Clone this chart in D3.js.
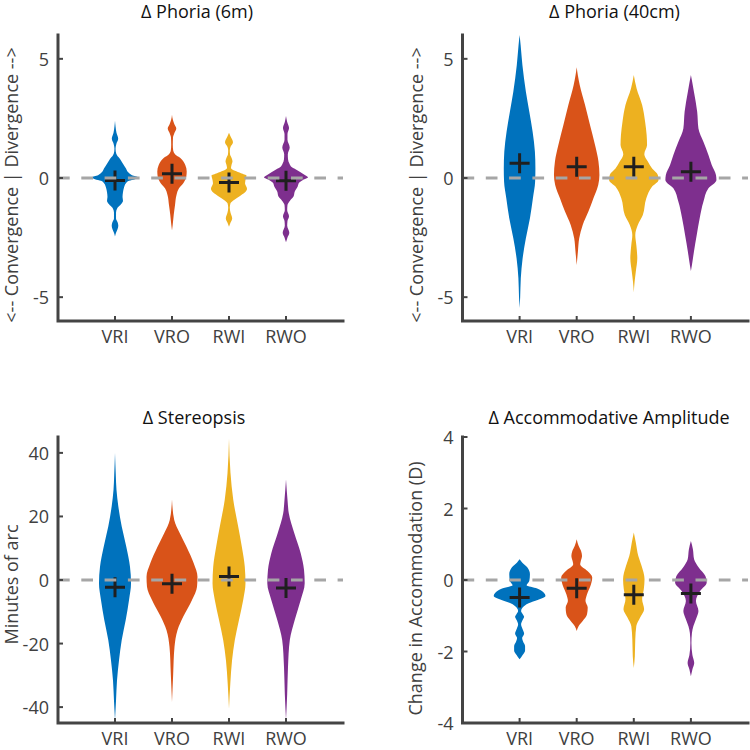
<!DOCTYPE html>
<html><head><meta charset="utf-8">
<script src="https://cdn.jsdelivr.net/npm/d3@7"></script>
<style>body{margin:0;background:#fff}svg{display:block}</style>
</head><body>
<svg id="chart" width="750" height="750"></svg>
<script>
// ---------- data ----------
const categories = ["VRI", "VRO", "RWI", "RWO"];
const seriesColors = ["#0072BD", "#D95319", "#EDB120", "#7E2F8E"];

// violin outlines: [value, half-width as fraction of category spacing]
const phoria6mProfiles = [
  [[2.4,0],[2.15,0.01],[1.9,0.026],[1.65,0.056],[1.45,0.026],[1.25,0.01],[1.1,0.014],[0.95,0.035],[0.8,0.088],[0.6,0.14],[0.4,0.193],[0.25,0.228],[0.12,0.298],[0.03,0.404],[-0.05,0.351],[-0.12,0.246],[-0.22,0.193],[-0.4,0.158],[-0.6,0.14],[-0.8,0.132],[-0.95,0.14],[-1.1,0.105],[-1.25,0.044],[-1.45,0.018],[-1.7,0.018],[-1.85,0.044],[-2.0,0.058],[-2.15,0.044],[-2.3,0.018],[-2.45,0]],
  [[2.65,0],[2.45,0.014],[2.25,0.044],[2.08,0.075],[1.9,0.044],[1.7,0.018],[1.4,0.014],[1.15,0.021],[1.0,0.053],[0.84,0.146],[0.55,0.233],[0.27,0.258],[0.06,0.251],[-0.22,0.198],[-0.43,0.123],[-0.71,0.079],[-1.13,0.053],[-1.55,0.03],[-1.97,0.012],[-2.2,0]],
  [[1.9,0],[1.75,0.026],[1.5,0.07],[1.3,0.026],[1.15,0.014],[1.0,0.018],[0.85,0.044],[0.7,0.061],[0.55,0.044],[0.42,0.035],[0.3,0.105],[0.2,0.21],[0.1,0.307],[0.0,0.298],[-0.22,0.281],[-0.45,0.316],[-0.6,0.281],[-0.75,0.193],[-0.92,0.088],[-1.06,0.026],[-1.25,0.014],[-1.45,0.026],[-1.7,0.056],[-1.88,0.026],[-2.05,0]],
  [[2.6,0],[2.35,0.021],[2.1,0.053],[1.85,0.026],[1.6,0.026],[1.28,0.065],[1.0,0.032],[0.8,0.035],[0.6,0.061],[0.45,0.105],[0.34,0.189],[0.15,0.316],[0.03,0.386],[-0.08,0.298],[-0.2,0.228],[-0.36,0.205],[-0.57,0.154],[-0.78,0.132],[-0.95,0.07],[-1.13,0.026],[-1.35,0.021],[-1.6,0.053],[-1.8,0.026],[-2.0,0.021],[-2.3,0.058],[-2.5,0.026],[-2.7,0]]
];
const phoria6mMeans = [-0.1, 0.18, -0.19, -0.12];

const phoria40cmProfiles = [
  [[6.0,0],[5.58,0.018],[4.74,0.049],[3.62,0.11],[2.78,0.17],[1.94,0.228],[1.1,0.268],[0.4,0.277],[-0.15,0.272],[-0.85,0.233],[-1.69,0.181],[-2.53,0.11],[-3.37,0.053],[-4.21,0.021],[-5.0,0.01],[-5.45,0]],
  [[4.65,0],[4.3,0.021],[3.9,0.053],[3.06,0.146],[2.22,0.233],[1.38,0.321],[0.69,0.381],[0.13,0.398],[-0.29,0.377],[-0.85,0.293],[-1.41,0.205],[-1.97,0.105],[-2.53,0.044],[-3.09,0.021],[-3.65,0]],
  [[4.32,0],[3.76,0.049],[3.06,0.146],[2.36,0.198],[1.8,0.225],[1.38,0.232],[1.0,0.184],[0.69,0.246],[0.4,0.321],[0.13,0.421],[-0.08,0.433],[-0.36,0.321],[-0.85,0.219],[-1.55,0.158],[-1.97,0.07],[-2.39,0.026],[-2.81,0.044],[-3.37,0.061],[-3.93,0.035],[-4.35,0.014],[-4.8,0]],
  [[4.32,0],[3.62,0.053],[2.78,0.11],[2.08,0.132],[1.52,0.219],[0.97,0.307],[0.55,0.365],[0.13,0.439],[-0.08,0.447],[-0.43,0.307],[-1.0,0.219],[-1.69,0.154],[-2.39,0.102],[-3.09,0.053],[-3.65,0.018],[-3.9,0]]
];
const phoria40cmMeans = [0.62, 0.47, 0.47, 0.26];

const stereoProfiles = [
  [[40,0],[33,0.014],[28.4,0.026],[23.2,0.058],[16.8,0.118],[10.5,0.198],[4.2,0.263],[-1.05,0.281],[-6.3,0.246],[-12.6,0.188],[-18.9,0.118],[-25.3,0.07],[-31.6,0.035],[-37.9,0.018],[-44,0]],
  [[25.3,0],[18.9,0.039],[14.7,0.137],[10.5,0.254],[5.3,0.381],[1.05,0.447],[-2.1,0.439],[-6.3,0.351],[-11.6,0.196],[-15.8,0.096],[-21,0.044],[-29.5,0.021],[-38.4,0]],
  [[44.5,0],[33.7,0.026],[25.3,0.074],[16.8,0.161],[10.5,0.225],[4.2,0.277],[-1.05,0.289],[-6.3,0.249],[-12.6,0.175],[-18.9,0.102],[-25.3,0.053],[-32.6,0.023],[-40.5,0]],
  [[31.6,0],[25.3,0.026],[21,0.049],[14.7,0.146],[8.4,0.258],[3.2,0.316],[-1.05,0.328],[-6.3,0.258],[-12.6,0.153],[-18.9,0.067],[-27.4,0.035],[-35.8,0.021],[-44,0]]
];
const stereoMeans = [-2.3, -1.2, 1.1, -2.5];

const accomProfiles = [
  [[0.58,0],[0.49,0.044],[0.35,0.137],[0.16,0.181],[-0.03,0.17],[-0.15,0.123],[-0.24,0.307],[-0.35,0.421],[-0.45,0.453],[-0.56,0.316],[-0.65,0.158],[-0.77,0.053],[-0.87,0.026],[-0.95,0.053],[-1.03,0.079],[-1.12,0.053],[-1.24,0.026],[-1.38,0.053],[-1.5,0.079],[-1.62,0.044],[-1.72,0.061],[-1.85,0.096],[-1.97,0.096],[-2.1,0.053],[-2.22,0]],
  [[1.14,0],[0.95,0.035],[0.8,0.079],[0.67,0.093],[0.52,0.07],[0.44,0.061],[0.25,0.189],[0.07,0.272],[-0.17,0.24],[-0.4,0.181],[-0.59,0.154],[-0.77,0.193],[-0.96,0.181],[-1.15,0.105],[-1.29,0.035],[-1.43,0]],
  [[1.33,0],[1.05,0.035],[0.67,0.079],[0.39,0.137],[0.02,0.188],[-0.26,0.175],[-0.54,0.146],[-0.82,0.181],[-1.05,0.111],[-1.29,0.044],[-1.66,0.026],[-2.13,0.018],[-2.46,0]],
  [[1.09,0],[0.86,0.035],[0.58,0.056],[0.35,0.137],[0.11,0.254],[-0.07,0.277],[-0.31,0.161],[-0.59,0.088],[-0.87,0.132],[-1.1,0.088],[-1.29,0.044],[-1.48,0.018],[-1.76,0.009],[-2.1,0.026],[-2.32,0.058],[-2.5,0.026],[-2.69,0]]
];
const accomMeans = [-0.49, -0.23, -0.41, -0.38];

const phoriaDomain = [-6, 6], phoriaTicks = [-5, 0, 5];
const stereoDomain = [-45, 45], stereoTicks = [-40, -20, 0, 20, 40];
const accomDomain = [-4, 4], accomTicks = [-4, -2, 0, 2, 4];

const titles = ["\u0394 Phoria (6m)", "\u0394 Phoria (40cm)", "\u0394 Stereopsis", "\u0394 Accommodative Amplitude"];
const yLabels = ["<-- Convergence | Divergence -->", "<-- Convergence | Divergence -->", "Minutes of arc", "Change in Accommodation (D)"];

// ---------- layout ----------
const FONT = "'Open Sans', 'Noto Sans', sans-serif";
const FS = 18;
const layout = [
  {l: 58,  r: 343, t: 35,  b: 321, tx: 197, ty: 17.5,  lx: 17.5,  ly: 185},
  {l: 462.5, r: 748, t: 35, b: 321, tx: 614.5, ty: 17.5,  lx: 423, ly: 185},
  {l: 58,  r: 343, t: 437, b: 723, tx: 194, ty: 424, lx: 17.5,  ly: 584.5},
  {l: 462.5, r: 748, t: 437, b: 723, tx: 609, ty: 424, lx: 422, ly: 588.5}
];
const panels = [
  {profiles: phoria6mProfiles, means: phoria6mMeans, domain: phoriaDomain, ticks: phoriaTicks},
  {profiles: phoria40cmProfiles, means: phoria40cmMeans, domain: phoriaDomain, ticks: phoriaTicks},
  {profiles: stereoProfiles, means: stereoMeans, domain: stereoDomain, ticks: stereoTicks},
  {profiles: accomProfiles, means: accomMeans, domain: accomDomain, ticks: accomTicks}
];

const svg = d3.select("#chart");
const axisColor = "#444444";

panels.forEach((p, k) => {
  const L = layout[k];
  const g = svg.append("g");
  const x = d3.scaleLinear().domain([0, categories.length + 1]).range([L.l, L.r]);
  const y = d3.scaleLinear().domain(p.domain).range([L.b, L.t]);

  // violins
  p.profiles.forEach((prof, i) => {
    const c = i + 1;
    const area = d3.area()
      .curve(d3.curveMonotoneY)
      .y(d => y(d[0]))
      .x0(d => x(c - d[1]))
      .x1(d => x(c + d[1]));
    g.append("path").attr("d", area(prof)).attr("fill", seriesColors[i]).attr("stroke", "none");
  });

  // mean markers
  p.means.forEach((m, i) => {
    const cx = x(i + 1), cy = y(m);
    g.append("path")
      .attr("d", `M${cx - 10},${cy}H${cx + 10}M${cx},${cy - 10}V${cy + 10}`)
      .attr("stroke", "#1f1f1f").attr("stroke-width", 3).attr("fill", "none");
  });

  // zero reference line
  g.append("line")
    .attr("x1", x(0)).attr("x2", x(categories.length + 1))
    .attr("y1", y(0)).attr("y2", y(0))
    .attr("stroke", "#a6a6a6").attr("stroke-width", 3)
    .attr("stroke-dasharray", "11.7 11.6");

  // axes lines
  g.append("path")
    .attr("d", `M${L.l},${y.range()[1]}V${y.range()[0]}H${L.r}`)
    .attr("stroke", axisColor).attr("stroke-width", 3).attr("fill", "none")
    .attr("stroke-linejoin", "miter").attr("stroke-linecap", "square");

  // y ticks
  p.ticks.forEach(t => {
    g.append("line").attr("x1", L.l).attr("x2", L.l + 5)
      .attr("y1", y(t)).attr("y2", y(t))
      .attr("stroke", axisColor).attr("stroke-width", 2);
    g.append("text").attr("x", L.l - 9).attr("y", y(t))
      .attr("text-anchor", "end").attr("dominant-baseline", "central")
      .attr("font-family", FONT).attr("font-size", FS).attr("fill", "#404040")
      .text(String(t));
  });

  // x ticks + labels
  categories.forEach((cat, i) => {
    const cx = x(i + 1);
    g.append("line").attr("x1", cx).attr("x2", cx)
      .attr("y1", L.b).attr("y2", L.b - 5)
      .attr("stroke", axisColor).attr("stroke-width", 2);
    g.append("text").attr("x", cx).attr("y", L.b + 22)
      .attr("text-anchor", "middle")
      .attr("font-family", FONT).attr("font-size", FS).attr("fill", "#404040")
      .text(cat);
  });

  // title
  g.append("text").attr("x", L.tx).attr("y", L.ty)
    .attr("text-anchor", "middle")
    .attr("font-family", FONT).attr("font-size", FS).attr("fill", "#111")
    .text(titles[k]);

  // y label
  g.append("text")
    .attr("transform", `translate(${L.lx},${L.ly}) rotate(-90)`)
    .attr("text-anchor", "middle")
    .attr("font-family", FONT).attr("font-size", FS).attr("fill", "#404040")
    .text(yLabels[k]);
});
</script>
</body></html>
